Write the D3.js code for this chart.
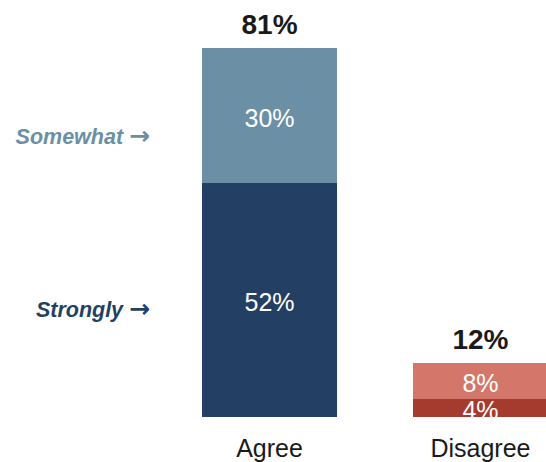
<!DOCTYPE html>
<html>
<head>
<meta charset="utf-8">
<script src="https://cdn.jsdelivr.net/npm/d3@7"></script>
<style>
  html, body { margin: 0; padding: 0; background: #fff; }
  svg { display: block; font-family: "Liberation Sans", Arial, Helvetica, sans-serif; }
</style>
</head>
<body>
<svg id="chart" width="546" height="462"></svg>
<script>
const categories = ["Agree", "Disagree"];
const stronglyValues = [52, 4];
const somewhatValues = [30, 8];
const totalLabels = ["81%", "12%"];
const seriesNames = ["Strongly", "Somewhat"];

const colors = {
  Agree: { Strongly: "#243f64", Somewhat: "#6b8fa4" },
  Disagree: { Strongly: "#a53b2d", Somewhat: "#d4776a" }
};
const labelColors = { Strongly: "#243f64", Somewhat: "#6b8fa4" };

const svg = d3.select("#chart");

const x = d3.scaleBand().domain(categories).range([202, 548]).paddingInner(0.36).paddingOuter(0);
const maxTotal = d3.max(categories, (c, i) => stronglyValues[i] + somewhatValues[i]);
const y = d3.scaleLinear().domain([0, maxTotal]).range([417, 48]);

const rows = categories.map((c, i) => ({ cat: c, Strongly: stronglyValues[i], Somewhat: somewhatValues[i], total: totalLabels[i] }));
const stack = d3.stack().keys(seriesNames)(rows);

stack.forEach(layer => {
  const key = layer.key;
  const g = svg.append("g");
  g.selectAll("rect").data(layer).enter().append("rect")
    .attr("x", d => x(d.data.cat))
    .attr("width", x.bandwidth())
    .attr("y", d => y(d[1]))
    .attr("height", d => y(d[0]) - y(d[1]))
    .attr("fill", d => colors[d.data.cat][key]);
  g.selectAll("text").data(layer).enter().append("text")
    .attr("x", d => x(d.data.cat) + x.bandwidth() / 2)
    .attr("y", d => (y(d[0]) + y(d[1])) / 2 + 11)
    .attr("text-anchor", "middle")
    .attr("fill", "#ffffff")
    .style("font-size", "25px")
    .text(d => d.data[key] + "%");
});

// totals
svg.append("g").selectAll("text").data(rows).enter().append("text")
  .attr("x", d => x(d.cat) + x.bandwidth() / 2)
  .attr("y", d => y(d.Strongly + d.Somewhat) - 14)
  .attr("text-anchor", "middle")
  .attr("fill", "#1a1a1a")
  .style("font-size", "28px")
  .style("font-weight", "bold")
  .text(d => d.total);

// category axis labels
const xAxis = d3.axisBottom(x).tickSize(0).tickPadding(0);
const ax = svg.append("g").attr("transform", "translate(0,417)").call(xAxis);
ax.select(".domain").remove();
ax.selectAll("text")
  .attr("y", 40)
  .attr("dy", 0)
  .attr("fill", "#1a1a1a")
  .style("font-size", "25px")
  .style("font-family", "\"Liberation Sans\", Arial, sans-serif");

// series labels on left
const seriesLabelY = { Strongly: 317, Somewhat: 144 };
const lbl = svg.append("g").selectAll("text").data(seriesNames).enter().append("text")
  .attr("x", 150)
  .attr("y", k => seriesLabelY[k])
  .attr("text-anchor", "end")
  .attr("fill", k => labelColors[k])
  .style("font-size", "21.5px")
  .style("font-weight", "bold")
  .style("font-style", "italic");
lbl.append("tspan").text(k => k + " ");
lbl.append("tspan")
  .style("font-family", "\"DejaVu Sans\", sans-serif")
  .style("font-style", "normal")
  .style("font-size", "25px")
  .text("\u2192");
</script>
</body>
</html>
